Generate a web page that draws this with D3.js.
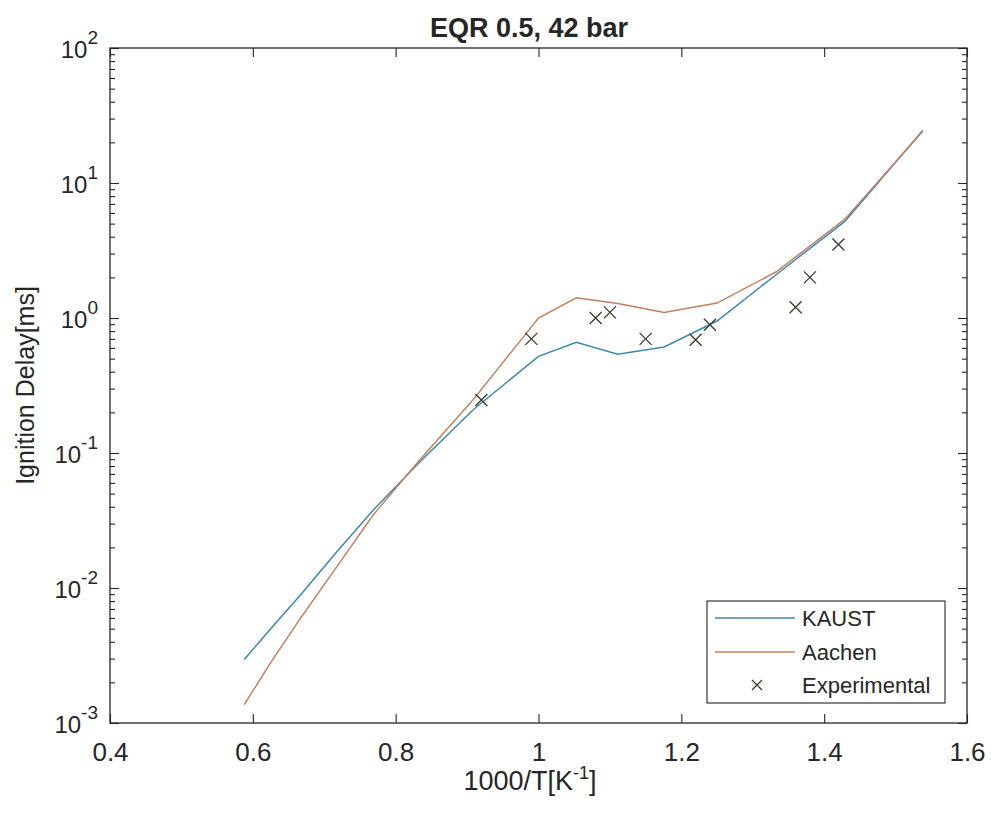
<!DOCTYPE html>
<html>
<head>
<meta charset="utf-8">
<script src="https://cdn.jsdelivr.net/npm/d3@7"></script>
<style>
  body { margin: 0; background: #fff; }
  svg text { font-family: "Liberation Sans", Arial, sans-serif; fill: #262626; }
  .axis path { display: none; }
  .axis line { stroke: #262626; stroke-width: 1.1; }
</style>
</head>
<body>
<div id="chart-area"></div>
<script>
// model x values (1000/T)
var modelX = [0.588, 0.625, 0.667, 0.714, 0.769, 0.833, 0.909, 1.0, 1.053, 1.111, 1.176, 1.25, 1.333, 1.429, 1.538];
var kaustY = [0.00295, 0.0050, 0.0089, 0.0176, 0.038, 0.085, 0.21, 0.52, 0.66, 0.54, 0.61, 0.95, 2.1, 5.2, 24.5];
var aachenY = [0.00137, 0.0028, 0.0060, 0.0135, 0.035, 0.088, 0.25, 1.0, 1.41, 1.28, 1.1, 1.29, 2.2, 5.4, 24.2];

// experimental points
var expX = [0.92, 0.99, 1.08, 1.10, 1.15, 1.22, 1.24, 1.36, 1.38, 1.42];
var expY = [0.247, 0.70, 1.0, 1.1, 0.70, 0.69, 0.89, 1.2, 2.0, 3.5];

var xTicks = [0.4, 0.6, 0.8, 1, 1.2, 1.4, 1.6];
var yExps = [-3, -2, -1, 0, 1, 2];

var margin = { left: 110, right: 24, top: 48, bottom: 91 },
    width = 991 - margin.left - margin.right,
    height = 814 - margin.top - margin.bottom;

var svg = d3.select("#chart-area")
    .append("svg")
    .attr("width", 991)
    .attr("height", 814);

var g = svg.append("g")
    .attr("transform", "translate(" + margin.left + "," + margin.top + ")");

// Scales
var x = d3.scaleLinear().domain([0.4, 1.6]).range([0, width]);
var y = d3.scaleLog().domain([1e-3, 1e2]).range([height, 0]);

var majorY = yExps.map(function(e){ return Math.pow(10, e); });
var minorY = [];
yExps.slice(0, -1).forEach(function(e){
    for (var k = 2; k <= 9; k++) minorY.push(k * Math.pow(10, e));
});

// Ticks (inward, on all four sides)
g.append("g").attr("class", "axis")
    .call(d3.axisLeft(y).tickValues(majorY).tickSize(-9).tickFormat(""));
g.append("g").attr("class", "axis")
    .call(d3.axisLeft(y).tickValues(minorY).tickSize(-5).tickFormat(""));
g.append("g").attr("class", "axis")
    .attr("transform", "translate(" + width + ",0)")
    .call(d3.axisRight(y).tickValues(majorY).tickSize(-9).tickFormat(""));
g.append("g").attr("class", "axis")
    .attr("transform", "translate(" + width + ",0)")
    .call(d3.axisRight(y).tickValues(minorY).tickSize(-5).tickFormat(""));

var xAxis = g.append("g").attr("class", "axis")
    .attr("transform", "translate(0," + height + ")")
    .call(d3.axisBottom(x).tickValues(xTicks).tickSize(-9).tickPadding(20)
        .tickFormat(function(d){ return String(d); }));
xAxis.selectAll("text").attr("font-size", "26px").attr("dy", "0.71em");
g.append("g").attr("class", "axis")
    .call(d3.axisTop(x).tickValues(xTicks).tickSize(-9).tickFormat(""));

// y tick labels with superscript exponents
var yLab = g.append("g");
yExps.forEach(function(e){
    var t = yLab.append("text")
        .attr("x", -12)
        .attr("y", y(Math.pow(10, e)) + 10)
        .attr("text-anchor", "end")
        .attr("font-size", "24px");
    t.append("tspan").text("10");
    t.append("tspan").attr("dy", -14).attr("font-size", "19px").text(String(e));
});

// box
g.append("rect")
    .attr("width", width).attr("height", height)
    .attr("fill", "none").attr("stroke", "#262626").attr("stroke-width", 1.3);

// lines
var line = d3.line()
    .x(function(d){ return x(d[0]); })
    .y(function(d){ return y(d[1]); });

var kaustColor = "#3f87ab", aachenColor = "#c4805e";

g.append("path")
    .attr("fill", "none").attr("stroke", kaustColor).attr("stroke-width", 1.5)
    .attr("d", line(d3.zip(modelX, kaustY)));
g.append("path")
    .attr("fill", "none").attr("stroke", aachenColor).attr("stroke-width", 1.5)
    .attr("d", line(d3.zip(modelX, aachenY)));

// x markers
function cross(sel, cx, cy, s) {
    sel.append("path")
        .attr("d", "M" + (cx - s) + "," + (cy - s) + "L" + (cx + s) + "," + (cy + s) +
                   "M" + (cx - s) + "," + (cy + s) + "L" + (cx + s) + "," + (cy - s))
        .attr("stroke", "#3a3a2a").attr("stroke-width", 1.3).attr("fill", "none");
}
d3.zip(expX, expY).forEach(function(d){
    cross(g, x(d[0]), y(d[1]), 6);
});

// title and labels
svg.append("text")
    .attr("x", 529).attr("y", 37)
    .attr("text-anchor", "middle")
    .attr("font-size", "27px").attr("font-weight", "bold")
    .text("EQR 0.5, 42 bar");

var xl = svg.append("text")
    .attr("x", 530).attr("y", 790)
    .attr("text-anchor", "middle")
    .attr("font-size", "27px");
xl.append("tspan").text("1000/T[K");
xl.append("tspan").attr("dy", -11).attr("font-size", "18px").text("-1");
xl.append("tspan").attr("dy", 11).text("]");

svg.append("text")
    .attr("transform", "translate(34," + (margin.top + height / 2) + ") rotate(-90)")
    .attr("text-anchor", "middle")
    .attr("font-size", "25px")
    .text("Ignition Delay[ms]");

// legend
var leg = svg.append("g");
leg.append("rect")
    .attr("x", 707).attr("y", 601).attr("width", 238).attr("height", 102)
    .attr("fill", "#fff").attr("stroke", "#262626").attr("stroke-width", 1.1);
var legItems = [
    { name: "KAUST", color: kaustColor, y: 618, size: 22 },
    { name: "Aachen", color: aachenColor, y: 652, size: 22 },
    { name: "Experimental", color: null, y: 685, size: 22 }
];
legItems.forEach(function(d){
    if (d.color) {
        leg.append("line")
            .attr("x1", 715).attr("x2", 795).attr("y1", d.y).attr("y2", d.y)
            .attr("stroke", d.color).attr("stroke-width", 1.5);
    } else {
        cross(leg, 757, d.y, 5);
    }
    leg.append("text")
        .attr("x", 802).attr("y", d.y + d.size * 0.36)
        .attr("font-size", d.size + "px")
        .text(d.name);
});
</script>
</body>
</html>
